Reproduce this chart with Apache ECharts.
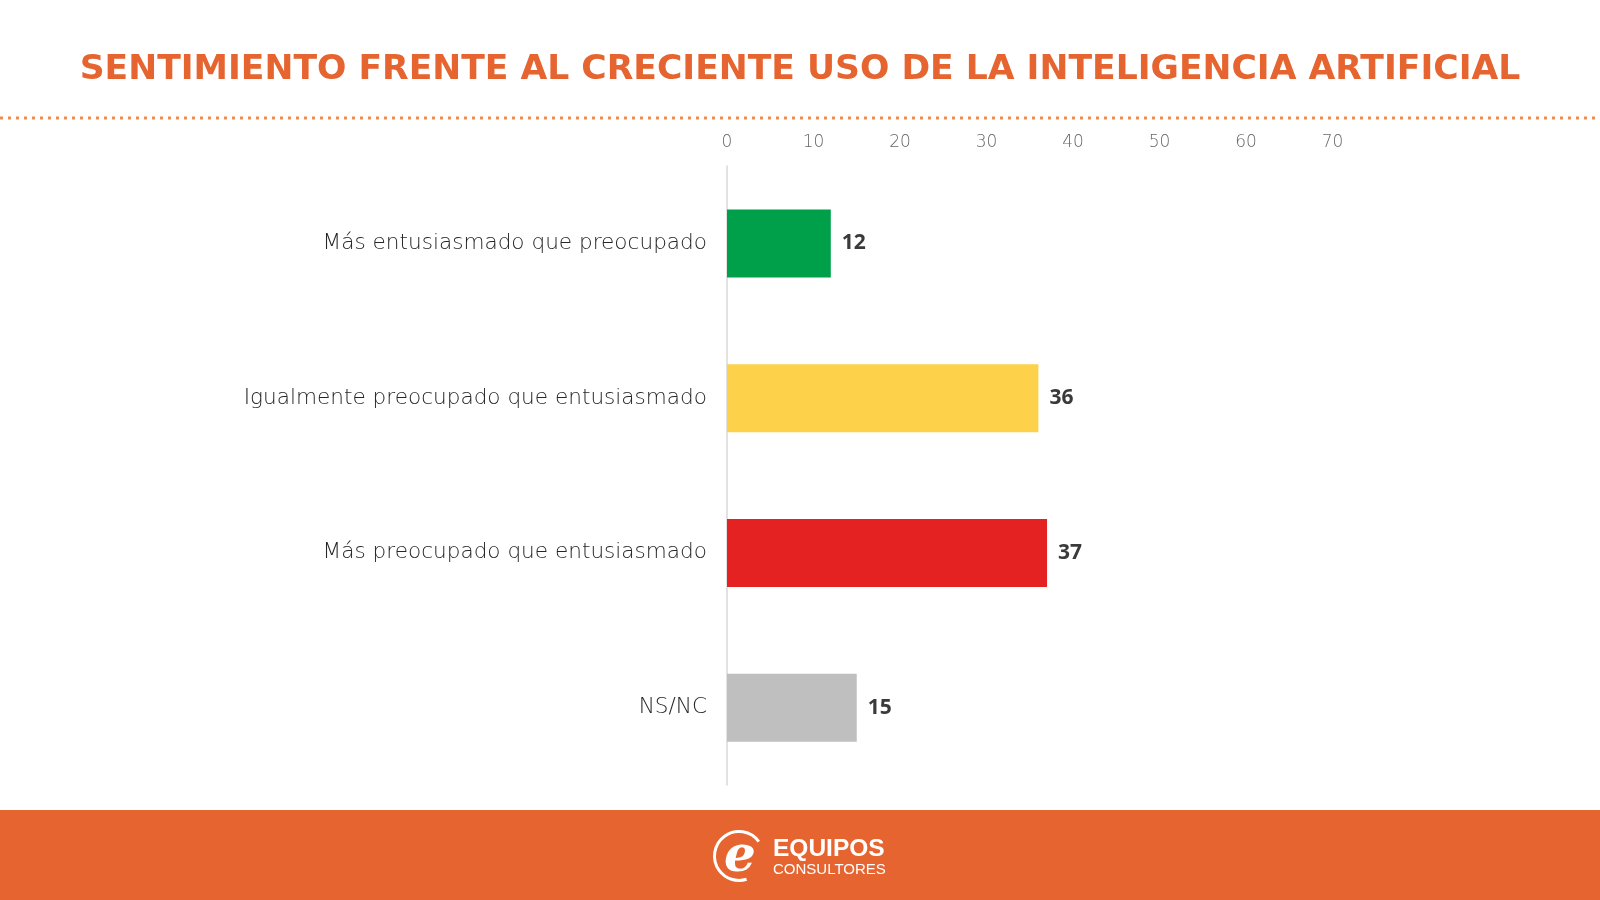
<!DOCTYPE html>
<html>
<head>
<meta charset="utf-8">
<script src="https://cdn.jsdelivr.net/npm/echarts@6/dist/echarts.min.js"></script>
<style>
html,body{margin:0;padding:0;background:#fff;}
#chart{width:1600px;height:900px;}
</style>
</head>
<body>
<div id="chart"></div>
<script>
const titleText = 'SENTIMIENTO FRENTE AL CRECIENTE USO DE LA INTELIGENCIA ARTIFICIAL';
const categories = [
  'Más entusiasmado que preocupado',
  'Igualmente preocupado que entusiasmado',
  'Más preocupado que entusiasmado',
  'NS/NC'
];
const values = [12, 36, 37, 15];
const barColors = ['#00A04B', '#FDD24A', '#E52222', '#BFBFBF'];
const axisMin = 0, axisMax = 70, axisStep = 10;
const brandTop = 'EQUIPOS';
const brandBottom = 'CONSULTORES';

const ORANGE = '#E6642F';
const chart = echarts.init(document.getElementById('chart'), null, {renderer: 'canvas'});

chart.setOption({
  backgroundColor: '#ffffff',
  animation: false,
  title: {
    text: titleText,
    left: 'center',
    top: 48,
    textStyle: {
      color: ORANGE,
      fontSize: 34.6,
      fontWeight: 'bold',
      fontFamily: 'DejaVu Sans, Noto Sans, sans-serif'
    }
  },
  grid: {
    left: 727,
    right: 267.5,
    top: 166,
    bottom: 115,
    containLabel: false
  },
  xAxis: {
    type: 'value',
    position: 'top',
    min: axisMin,
    max: axisMax,
    interval: axisStep,
    axisLine: {show: false},
    axisTick: {show: false},
    splitLine: {show: false},
    axisLabel: {
      margin: 15,
      color: '#666666',
      fontSize: 17,
      fontWeight: 200,
      fontFamily: 'DejaVu Sans, sans-serif'
    }
  },
  yAxis: {
    type: 'category',
    inverse: true,
    data: categories,
    axisLine: {show: true, lineStyle: {color: '#d9d9d9', width: 1.5}},
    axisTick: {show: false},
    axisLabel: {
      margin: 20,
      color: '#262626',
      fontSize: 21.6,
      fontWeight: 200,
      fontFamily: 'DejaVu Sans, sans-serif'
    }
  },
  series: [{
    type: 'bar',
    barWidth: 68,
    data: values.map((v, i) => ({value: v, itemStyle: {color: barColors[i]}})),
    label: {
      show: true,
      position: 'right',
      distance: 11,
      color: '#3a3a3a',
      fontSize: 21,
      fontWeight: 'bold',
      fontFamily: 'Open Sans, Liberation Sans, sans-serif'
    }
  }],
  graphic: [
    {
      type: 'line',
      shape: {x1: 0, y1: 118, x2: 1600, y2: 118},
      style: {stroke: '#EE8A55', lineWidth: 3, lineDash: [3, 5]}
    },
    {
      type: 'rect',
      shape: {x: 0, y: 810, width: 1600, height: 90},
      style: {fill: ORANGE}
    },
    {
      type: 'arc',
      shape: {cx: 739, cy: 856, r: 24.5, startAngle: -Math.PI * 0.2, endAngle: Math.PI * 0.4, clockwise: false},
      style: {stroke: '#ffffff', fill: null, lineWidth: 3}
    },
    {
      type: 'text',
      x: 740, y: 858,
      style: {
        text: 'e',
        fill: '#ffffff',
        font: 'italic bold 50px "DejaVu Serif", serif',
        textAlign: 'center',
        textVerticalAlign: 'middle'
      }
    },
    {
      type: 'text',
      x: 773, y: 849,
      style: {
        text: brandTop,
        fill: '#ffffff',
        font: 'bold 24.5px "Liberation Sans", Arial, sans-serif',
        textAlign: 'left',
        textVerticalAlign: 'middle'
      }
    },
    {
      type: 'text',
      x: 773, y: 870,
      style: {
        text: brandBottom,
        fill: '#ffffff',
        font: '15px "Liberation Sans", Arial, sans-serif',
        textAlign: 'left',
        textVerticalAlign: 'middle'
      }
    }
  ]
});
</script>
</body>
</html>
